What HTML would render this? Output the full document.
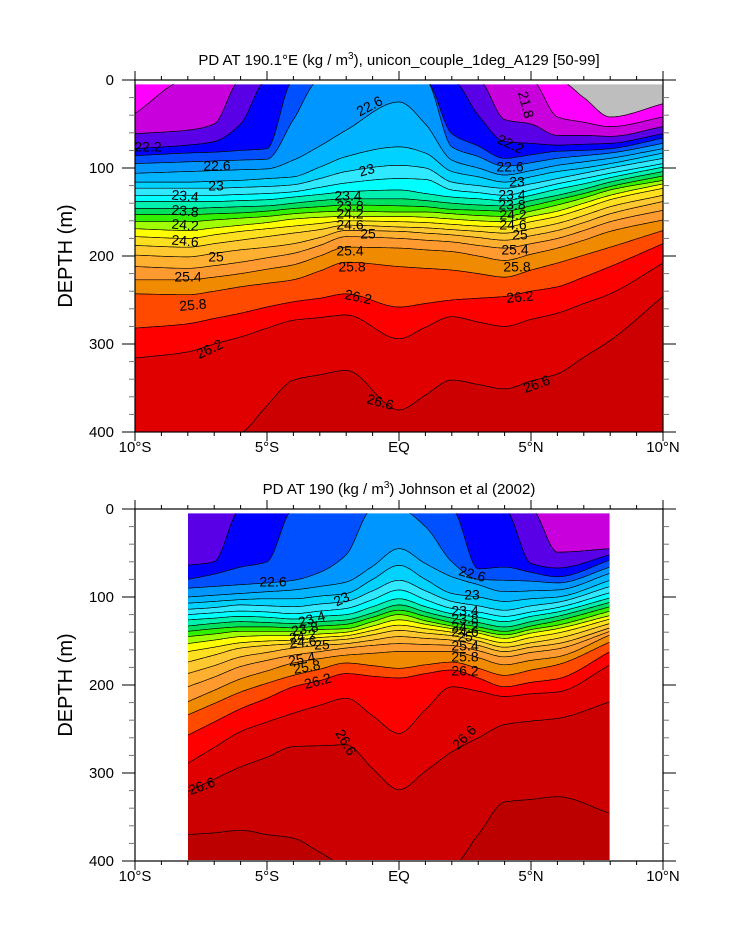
<!DOCTYPE html>
<html><head><meta charset="utf-8"><style>
body{margin:0;background:#fff;}
svg{display:block;font-family:"Liberation Sans",sans-serif;}
</style></head><body>
<svg id="chart" width="733" height="945" viewBox="0 0 733 945">
<defs>
<clipPath id="clip1"><rect x="135" y="84.4" width="528" height="347.6"/></clipPath>
<clipPath id="clip2"><rect x="188" y="513.4" width="422" height="346.6"/></clipPath>
</defs>
<text x="399" y="65" font-size="15" text-anchor="middle">PD AT 190.1°E (kg / m<tspan font-size="10" dy="-6">3</tspan><tspan dy="6">), unicon_couple_1deg_A129 [50-99]</tspan></text>
<text x="399" y="494" font-size="15" text-anchor="middle">PD AT 190 (kg / m<tspan font-size="10" dy="-6">3</tspan><tspan dy="6">) Johnson et al (2002)</tspan></text>
<text transform="translate(72,256) rotate(-90)" font-size="20" text-anchor="middle">DEPTH (m)</text>
<text transform="translate(72,685) rotate(-90)" font-size="20" text-anchor="middle">DEPTH (m)</text>
<g id="p1"></g>
<g id="p2"></g>
</svg>
<script>
// density contour levels (kg/m3)
const levels = [21.8,22.0,22.2,22.4,22.6,22.8,23.0,23.2,23.4,23.6,23.8,24.0,24.2,24.4,24.6,24.8,25.0,25.2,25.4,25.6,25.8,26.0,26.2,26.6,26.8];
const bandColors = ["#bebebe","#ff00ff","#c800dc","#5a00e6","#0000ff","#0050ff","#0096ff","#00b4ff","#00d2ff","#30e8ff","#00ffff","#00f0b0","#00e060","#30f000","#a0ff00","#ffff00","#ffe020","#ffc830","#ffb030","#ff9a30","#f08a00","#ff4a00","#ff0000","#e00000","#cc0000","#bc0000"];
// model: latitudes and isopycnal depths (m) per latitude, one value per level
const lat1 = [-10,-8,-7,-6,-5,-4,-3,-2,0,1,2,3,4,5,6,7,8,10];
const prof1 = [
[0,38,61,78,86,95,106,116,123,131,138,146,153,161,169,178,188,199,212,227,243,282,316,436,520],
[0,0,57,74,83,93,104,116,123,131,138,146,153,161,171,180,190,201,214,227,244,277,309,424,520],
[0,0,50,70,82,92,103,115,123,131,138,145,152,159,168,176,186,197,211,224,240,271,300,413,510],
[0,0,0,50,80,91,102,114,122,130,137,144,151,157,165,172,182,193,207,220,235,265,292,402,500],
[0,0,0,0,78,90,101,112,121,129,136,143,149,155,162,169,178,190,202,215,231,258,282,370,490],
[0,0,0,0,0,45,91,110,119,127,133,140,146,152,158,166,174,186,197,210,227,252,273,341,480],
[0,0,0,0,0,0,75,99,112,122,130,137,144,150,156,163,170,179,188,200,217,248,270,335,475],
[0,0,0,0,0,0,57,87,104,117,127,135,142,149,155,160,165,171,178,190,207,243,267,330,470],
[0,0,0,0,0,0,25,76,97,112,125,135,143,150,155,161,167,172,180,191,212,258,294,375,470],
[0,0,0,0,0,0,50,83,100,113,129,137,144,150,156,162,168,174,182,193,214,254,281,358,465],
[0,0,0,0,61,76,91,104,116,125,133,140,147,152,158,164,170,176,184,195,216,250,269,341,460],
[0,0,0,40,75,87,100,110,120,128,135,142,148,154,160,166,172,179,188,200,220,248,275,346,455],
[0,0,45,70,89,98,108,116,123,131,137,143,149,155,161,167,174,182,191,205,224,246,280,351,450],
[0,0,50,72,85,94,103,110,118,125,131,137,143,149,155,161,169,177,186,198,216,240,272,342,445],
[0,42,63,74,81,89,97,104,112,118,124,131,136,142,149,155,163,171,180,191,208,235,265,334,440],
[20,48,63,73,80,86,93,100,106,112,118,124,129,134,140,146,154,162,171,182,199,224,254,315,430],
[42,53,64,72,78,83,89,95,100,106,111,116,121,125,131,136,144,152,161,172,190,212,243,296,420],
[27,42,53,61,66,72,78,83,89,95,99,104,109,114,118,123,131,138,148,159,171,186,208,246,420]
];
// observations
const lat2 = [-8,-7,-6,-5,-4,-3,-2,-1,0,1,2,3,4,5,6,8];
const prof2 = [
[0,0,0,64,80,90,100,107,114,120,126,133,139,145,153,162,174,187,202,219,234,257,289,321,370],
[0,0,0,60,74,88,98,105,112,118,124,130,136,142,149,157,166,178,191,206,221,242,271,307,368],
[0,0,0,0,66,86,96,103,109,116,122,128,134,139,145,152,158,168,179,193,208,227,253,293,365],
[0,0,0,0,60,84,94,102,110,117,123,129,134,139,144,150,155,163,172,184,198,215,242,282,370],
[0,0,0,0,0,81,92,102,111,119,125,130,135,139,144,149,153,158,166,175,189,202,232,270,374],
[0,0,0,0,0,72,88,99,108,116,122,128,133,137,142,146,150,155,162,170,182,195,223,269,390],
[0,0,0,0,0,52,83,96,105,113,120,126,131,136,140,144,148,153,158,166,175,187,215,268,405],
[0,0,0,0,0,0,65,80,93,103,111,118,123,128,133,138,143,149,155,164,178,190,235,295,405],
[0,0,0,0,0,0,45,64,81,92,102,109,115,120,126,132,138,145,153,162,181,192,255,319,405],
[0,0,0,0,0,20,62,80,93,103,111,117,122,127,131,136,141,147,154,162,177,187,228,298,405],
[0,0,0,0,0,60,77,96,105,113,119,124,129,133,136,140,144,149,155,162,174,183,202,276,405],
[0,0,0,0,68,80,86,100,110,117,123,129,134,138,141,146,150,155,161,169,181,192,207,260,370],
[0,0,0,0,66,81,94,105,115,122,128,134,139,143,147,152,157,162,168,177,189,202,213,245,333],
[0,0,0,62,72,82,93,102,110,117,122,128,133,137,141,146,152,157,163,172,183,197,210,241,330],
[0,0,49,67,77,84,92,100,106,112,117,122,127,132,136,141,147,153,159,168,177,193,208,238,327],
[0,0,45,52,58,66,73,81,88,95,101,106,111,116,121,125,130,135,139,143,151,162,177,219,346]
];
const xTickLabels = ["10°S","5°S","EQ","5°N","10°N"];
const xTickLats = [-10,-5,0,5,10];
const yTicks = [0,100,200,300,400];

const NS="http://www.w3.org/2000/svg";
function mk(tag,attrs,parent){const e=document.createElementNS(NS,tag);for(const k in attrs)e.setAttribute(k,attrs[k]);if(parent)parent.appendChild(e);return e;}

// monotone cubic (Fritsch-Carlson) interpolation
function mInterp(xs,ys,x){
  const n=xs.length;
  if(x<=xs[0])return ys[0];
  if(x>=xs[n-1])return ys[n-1];
  const h=[],d=[];
  for(let i=0;i<n-1;i++){h.push(xs[i+1]-xs[i]);d.push((ys[i+1]-ys[i])/h[i]);}
  const m=[d[0]];
  for(let i=1;i<n-1;i++){
    if(d[i-1]*d[i]<=0)m.push(0);
    else{const w1=2*h[i]+h[i-1],w2=h[i]+2*h[i-1];m.push((w1+w2)/(w1/d[i-1]+w2/d[i]));}
  }
  m.push(d[n-2]);
  let i=0;while(x>xs[i+1])i++;
  const t=(x-xs[i])/h[i],t2=t*t,t3=t2*t;
  return (2*t3-3*t2+1)*ys[i]+(t3-2*t2+t)*h[i]*m[i]+(-2*t3+3*t2)*ys[i+1]+(t3-t2)*h[i]*m[i+1];
}

function drawPlot(g,cfg){
  const xOf=lat=>135+(lat+10)*26.4;
  const yOf=d=>cfg.y0+d*0.88;
  const L=levels.length;
  const samples=[];
  const cols=[];for(let k=0;k<L;k++)cols.push(cfg.prof.map(p=>p[k]));
  for(let px=xOf(cfg.lats[0]);px<=xOf(cfg.lats[cfg.lats.length-1])+0.01;px+=1.5){
    const lat=(px-135)/26.4-10;
    const ds=[];
    for(let k=0;k<L;k++){
      let d=mInterp(cfg.lats,cols[k],lat);
      if(k>0)d=Math.max(d,ds[k-1]);
      d=Math.max(d,-6);
      ds.push(Math.min(d,420));
    }
    samples.push({x:px,ds});
  }
  const cg=mk('g',{'clip-path':'url(#'+cfg.clip+')'},g);
  for(let b=0;b<=L;b++){
    let pts=[];
    samples.forEach(s=>{const d=b===0?-6:s.ds[b-1];pts.push(s.x.toFixed(1)+','+yOf(d).toFixed(1));});
    for(let i=samples.length-1;i>=0;i--){const s=samples[i];const d=b===L?420:s.ds[b];pts.push(s.x.toFixed(1)+','+yOf(d).toFixed(1));}
    const p=mk('polygon',{points:pts.join(' '),fill:bandColors[b],stroke:bandColors[b],'stroke-width':'0.6'},cg);
    
    
  }
  for(let k=0;k<L;k++){
    const pts=samples.map(s=>s.x.toFixed(1)+','+yOf(s.ds[k]).toFixed(1));
    const l=mk('polyline',{points:pts.join(' '),fill:'none',stroke:'#000','stroke-width':'0.7'},cg);
    
    
  }
  cfg.labels.forEach(lb=>{
    const t=mk('text',{x:lb[1],y:lb[2],'font-size':'14','text-anchor':'middle','dominant-baseline':'middle',transform:'rotate('+(lb[3]||0)+' '+lb[1]+' '+lb[2]+')'},g);
    t.textContent=lb[0];
    
    
  });
  const fr=mk('rect',{x:135,y:cfg.y0,width:528,height:352,fill:'none',stroke:'#000','stroke-width':'1.2'},g);
  
  
  const yb=cfg.y0+352;
  for(let lat=-10;lat<=10;lat++){
    const x=xOf(lat);const major=lat%5===0;const len=major?9:4;
    mk('line',{x1:x,y1:yb,x2:x,y2:yb+len,stroke:'#000','stroke-width':1},g);
    mk('line',{x1:x,y1:cfg.y0,x2:x,y2:cfg.y0-len,stroke:'#000','stroke-width':1},g);
  }
  xTickLabels.forEach((s,i)=>{
    const t=mk('text',{x:xOf(xTickLats[i]),y:yb+20,'font-size':'15','text-anchor':'middle'},g);
    t.textContent=s;
    
    
  });
  for(let d=0;d<=400;d+=20){
    const y=yOf(d);const major=d%100===0;const len=major?13:6;
    mk('line',{x1:135,y1:y,x2:135-len,y2:y,stroke:major?'#000':'#777','stroke-width':1},g);
    mk('line',{x1:663,y1:y,x2:663+len,y2:y,stroke:major?'#000':'#777','stroke-width':1},g);
  }
  yTicks.forEach(d=>{
    const t=mk('text',{x:114,y:yOf(d)+5,'font-size':'15','text-anchor':'end'},g);
    t.textContent=String(d);
    
    
  });
}

drawPlot(document.getElementById('p1'),{y0:80,lats:lat1,prof:prof1,clip:'clip1',labels:[
["22.6",370,107,-28],["21.8",525,105,75],["22.2",148,148,0],["22.2",510,145,25],
["22.6",217,167,0],["23",367,171,-15],["22.6",510,168,0],["23",216,187,0],["23",517,183,0],
["23.4",185,197,5],["23.4",348,197,0],["23.4",512,196,0],
["23.8",185,212,5],["23.8",350,207,0],["23.8",512,206,0],
["24.2",185,226,5],["24.2",350,215,0],["24.2",513,216,0],
["24.6",185,242,5],["24.6",350,226,0],["24.6",513,226,0],
["25",216,258,0],["25",368,235,0],["25",520,236,0],
["25.4",188,278,0],["25.4",350,252,0],["25.4",515,251,0],
["25.8",193,306,-5],["25.8",352,268,0],["25.8",517,268,0],
["26.2",210,350,-25],["26.2",358,298,12],["26.2",520,298,-5],
["26.6",380,403,15],["26.6",537,385,-20]]});

drawPlot(document.getElementById('p2'),{y0:509,lats:lat2,prof:prof2,clip:'clip2',labels:[
["22.6",273,583,0],["22.6",472,575,15],["23",342,600,-25],["23",472,596,0],
["23.4",312,620,-15],["23.4",465,612,0],["23.8",305,630,-10],["23.8",465,620,0],
["24.2",303,637,-10],["24.2",465,628,0],["24.6",303,643,-5],["24.6",465,633,0],
["25",322,646,0],["25",465,638,0],["25.4",302,660,-10],["25.4",465,647,0],
["25.8",307,668,-10],["25.8",465,658,0],["26.2",318,682,-15],["26.2",465,672,0],
["26.6",202,787,-20],["26.6",345,743,60],["26.6",465,738,-45]]});
</script>
</body></html>
